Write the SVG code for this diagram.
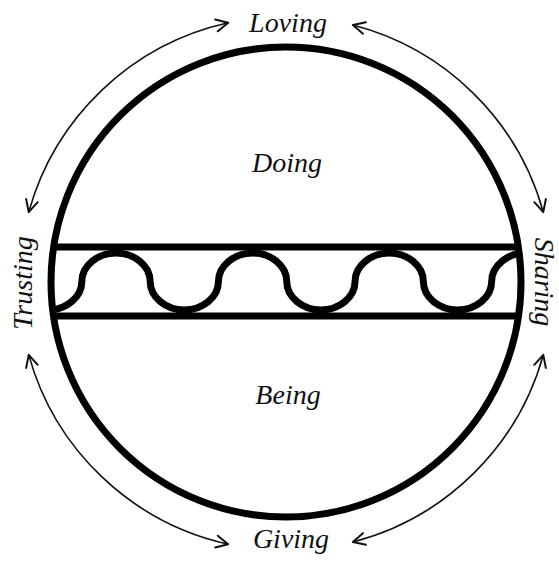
<svg xmlns="http://www.w3.org/2000/svg" width="559" height="561" viewBox="0 0 559 561">
<style>
.lbl{font-family:"Liberation Serif","DejaVu Serif",serif;font-style:italic;font-size:28px;fill:#111;text-anchor:middle}
.thick{fill:none;stroke:#000;stroke-width:7}
.arc{fill:none;stroke:#111;stroke-width:1.6;marker-start:url(#ah);marker-end:url(#ah)}
</style>
<defs>
<marker id="ah" viewBox="-14 -8 16 16" refX="0" refY="0" markerWidth="16" markerHeight="16" markerUnits="userSpaceOnUse" orient="auto-start-reverse">
<path d="M -12 -6 L 0 0 L -12 6" fill="none" stroke="#111" stroke-width="2" stroke-linecap="round" stroke-linejoin="round"/>
</marker>
<clipPath id="inner"><circle cx="286" cy="282" r="232"/></clipPath>
</defs>
<rect width="559" height="561" fill="#fff"/>
<g id="circle"><circle class="thick" cx="286" cy="282" r="235"/></g>
<g id="band" clip-path="url(#inner)">
<line class="thick" x1="40" y1="247" x2="530" y2="247"/>
<line class="thick" x1="40" y1="316" x2="530" y2="316"/>
<path class="thick" stroke-width="8" d="M 13.5 253 S 31.7 310 47.7 310 C 65.7 310 81.85 297.5 81.85 281.5 S 98 253 116 253 S 150.15 265.5 150.15 281.5 S 166.3 310 184.3 310 S 218.45 297.5 218.45 281.5 S 234.6 253 252.6 253 S 286.75 265.5 286.75 281.5 S 302.9 310 320.9 310 S 355.05 297.5 355.05 281.5 S 371.2 253 389.2 253 S 423.35 265.5 423.35 281.5 S 439.5 310 457.5 310 S 491.65 297.5 491.65 281.5 S 507.8 253 525.8 253"/>
</g>
<g id="doing"><text class="lbl" x="287" y="172">Doing</text></g>
<g id="being"><text class="lbl" x="288" y="404">Being</text></g>
<g id="loving"><text class="lbl" x="288" y="32">Loving</text></g>
<g id="giving"><text class="lbl" x="291" y="548">Giving</text></g>
<g id="trusting"><text class="lbl" transform="translate(32,283) rotate(-90)">Trusting</text></g>
<g id="sharing"><text class="lbl" transform="translate(535,282) rotate(90)">Sharing</text></g>
<g id="connectors">
<path class="arc" d="M 28.71 212.15 A 267 267 0 0 1 228.2 22.83"/>
<path class="arc" d="M 352.85 25 A 267 267 0 0 1 543.29 212.15"/>
<path class="arc" d="M 543.29 354.85 A 267 267 0 0 1 352.85 542"/>
<path class="arc" d="M 228.2 544.2 A 267 267 0 0 1 28.71 354.85"/>
</g>
</svg>
